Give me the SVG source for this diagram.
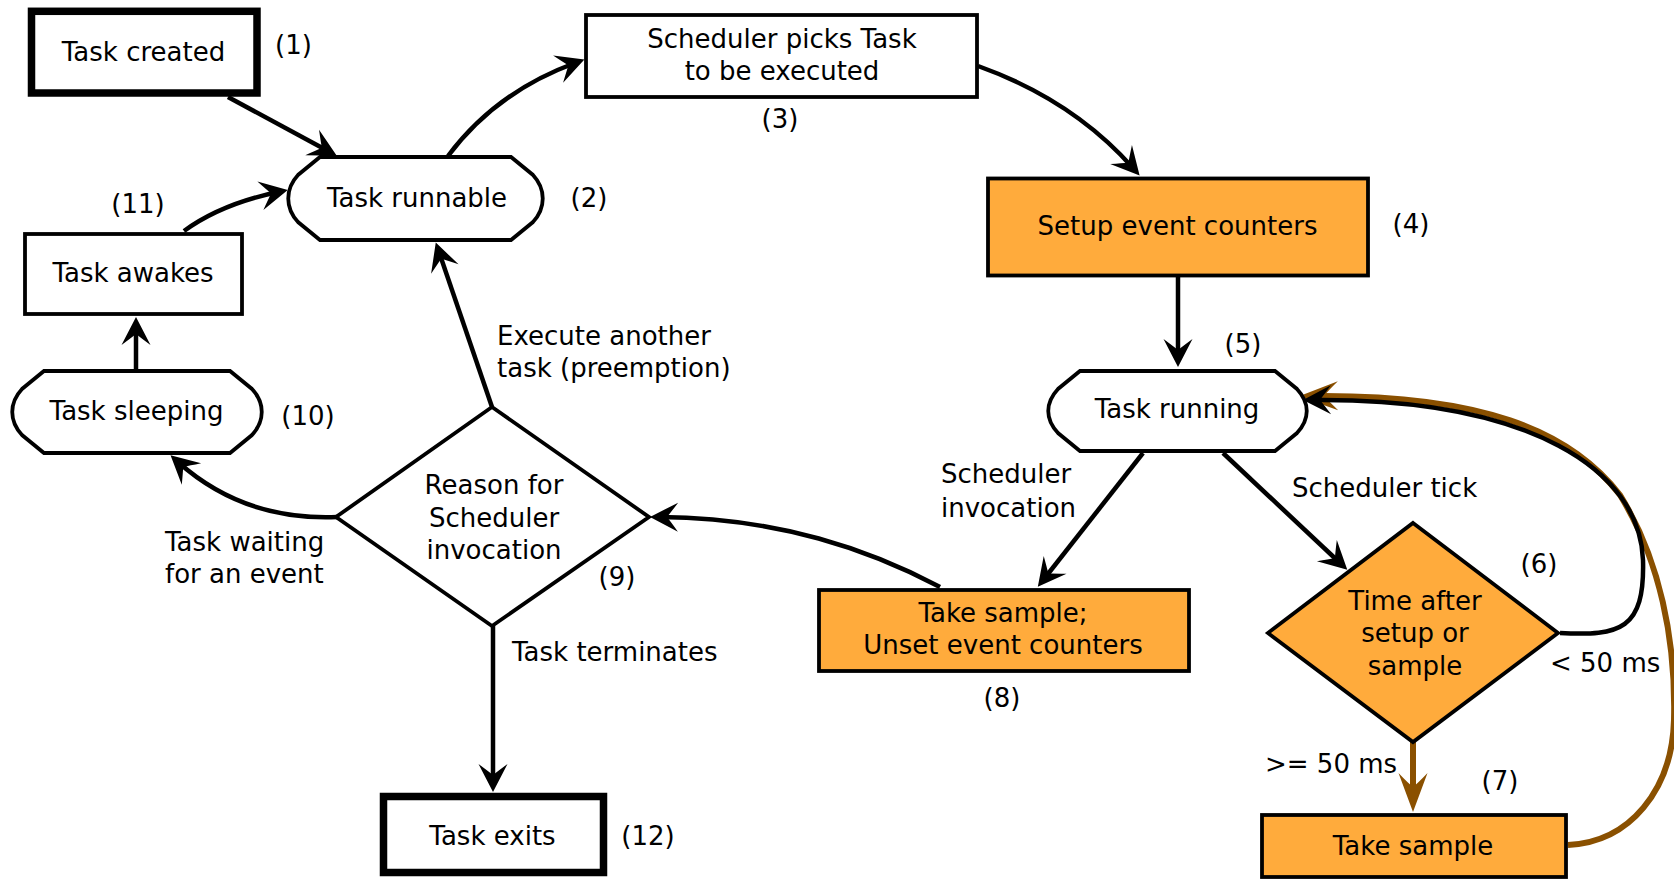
<svg xmlns="http://www.w3.org/2000/svg" width="1674" height="879" viewBox="0 0 1674 879">
<style>
  text { font-family: "DejaVu Sans", "Liberation Sans", sans-serif; font-size: 26px; fill: #000; }
  .c { text-anchor: middle; }
  .node { stroke: #000; stroke-width: 3.8; fill: #fff; }
  .thick { stroke-width: 7.5; }
  .orange { fill: #ffab3c; }
  .edge { fill: none; stroke: #000; stroke-width: 4.5; marker-end: url(#ah); }
  .brown { fill: none; stroke: #8a5000; stroke-width: 6; }
</style>
<defs>
  <marker id="ah" markerUnits="userSpaceOnUse" viewBox="-30 -16 32 32" markerWidth="32" markerHeight="32" refX="-10" refY="0" orient="auto" overflow="visible">
    <path d="M0,0 L-28,-14.5 Q-21,-5 -17,0 Q-21,5 -28,14.5 Z" fill="#000"/>
  </marker>
  <marker id="ahb" markerUnits="userSpaceOnUse" viewBox="-42 -16 44 32" markerWidth="44" markerHeight="32" refX="-12" refY="0" orient="auto" overflow="visible">
    <path d="M0,0 L-39,-14.5 Q-29,-5 -25,0 Q-29,5 -39,14.5 Z" fill="#8a5000"/>
  </marker>
</defs>
<rect width="1674" height="879" fill="#fff"/>

<g id="connectors">
  <path class="edge" d="M228,97 L328,151"/>
  <path class="edge" d="M448,156 C475,120 515,85 575,63"/>
  <path class="edge" d="M978,66 C1045,90 1095,125 1133,168"/>
  <path class="edge" d="M1178,277 V357"/>
  <path class="edge" d="M1143,453 L1044,579"/>
  <path class="edge" d="M1223,453 L1340,563"/>
  <path class="brown" marker-end="url(#ahb)" d="M1568,845 C1630,842 1672,790 1674,720 C1676,640 1660,560 1620,495 C1570,430 1480,394 1311,396"/>
  <path class="brown" marker-end="url(#ahb)" d="M1413,742 V800"/>
  <path class="edge" d="M1560,633 C1620,636 1645,630 1643,560 C1640,470 1530,398 1313,400"/>
  <path class="edge" d="M940,587 C870,550 780,518 660,517"/>
  <path class="edge" d="M492,407 L439,252"/>
  <path class="edge" d="M337,517 C265,520 215,495 178,462"/>
  <path class="edge" d="M493,626 V782"/>
  <path class="edge" d="M136,371 V327"/>
  <path class="edge" d="M184,231 C210,212 240,200 278,192"/>
</g>

<g id="n1">
  <rect class="node thick" x="31.5" y="11.3" width="225.5" height="81.7"/>
  <text class="c" x="143.5" y="61">Task created</text>
  <text class="c" x="293.5" y="54">(1)</text>
</g>
<g id="n2">
  <path class="node" d="M320,157 H511 L533,175 C546,189 546,208 533,222 L511,240 H320 L298,222 C285,208 285,189 298,175 Z"/>
  <text class="c" x="417" y="207">Task runnable</text>
  <text class="c" x="589" y="207">(2)</text>
</g>
<g id="n3">
  <rect class="node" x="586" y="15" width="391" height="82"/>
  <text class="c" x="782" y="48">Scheduler picks Task</text>
  <text class="c" x="782" y="80">to be executed</text>
  <text class="c" x="780" y="128">(3)</text>
</g>
<g id="n4">
  <rect class="node orange" x="988" y="178.5" width="380" height="97"/>
  <text class="c" x="1177.5" y="235">Setup event counters</text>
  <text class="c" x="1411" y="233">(4)</text>
</g>
<g id="n5">
  <path class="node" d="M1080,371 H1275 L1297,389 C1310,403 1310,419 1297,433 L1275,451 H1080 L1058,433 C1045,419 1045,403 1058,389 Z"/>
  <text class="c" x="1177" y="418">Task running</text>
  <text class="c" x="1243" y="353">(5)</text>
</g>
<g id="n6">
  <polygon class="node orange" points="1413,523 1558,633 1413,742 1268,633"/>
  <text class="c" x="1415" y="610">Time after</text>
  <text class="c" x="1415" y="642">setup or</text>
  <text class="c" x="1415" y="675">sample</text>
  <text class="c" x="1539" y="573">(6)</text>
</g>
<g id="n7">
  <rect class="node orange" x="1262" y="815" width="304" height="62"/>
  <text class="c" x="1413" y="855">Take sample</text>
  <text class="c" x="1500" y="790">(7)</text>
</g>
<g id="n8">
  <rect class="node orange" x="819" y="590" width="370" height="81"/>
  <text class="c" x="1003" y="622">Take sample;</text>
  <text class="c" x="1003" y="654">Unset event counters</text>
  <text class="c" x="1002" y="707">(8)</text>
</g>
<g id="n9">
  <polygon class="node" points="492,407 649,517 492,626 336,517"/>
  <text class="c" x="494" y="494">Reason for</text>
  <text class="c" x="494" y="527">Scheduler</text>
  <text class="c" x="494" y="559">invocation</text>
  <text class="c" x="617" y="586">(9)</text>
</g>
<g id="n10">
  <path class="node" d="M44,371 H230 L252,389 C265,403 265,421 252,435 L230,453 H44 L22,435 C9,421 9,403 22,389 Z"/>
  <text class="c" x="136.5" y="420">Task sleeping</text>
  <text class="c" x="308" y="425">(10)</text>
</g>
<g id="n11">
  <rect class="node" x="25" y="234" width="217" height="80"/>
  <text class="c" x="133" y="282">Task awakes</text>
  <text class="c" x="138" y="213">(11)</text>
</g>
<g id="n12">
  <rect class="node thick" x="383.5" y="796.5" width="220" height="76"/>
  <text class="c" x="492.5" y="845">Task exits</text>
  <text class="c" x="648" y="845">(12)</text>
</g>

<g id="labels">
  <text x="1292" y="497">Scheduler tick</text>
  <text x="1550" y="672">&lt; 50 ms</text>
  <text x="1265" y="773">&gt;= 50 ms</text>
  <text x="941" y="483">Scheduler</text>
  <text x="941" y="517">invocation</text>
  <text x="497" y="345">Execute another</text>
  <text x="497" y="377">task (preemption)</text>
  <text x="165" y="551">Task waiting</text>
  <text x="165" y="583">for an event</text>
  <text x="512" y="661">Task terminates</text>
</g>
</svg>
